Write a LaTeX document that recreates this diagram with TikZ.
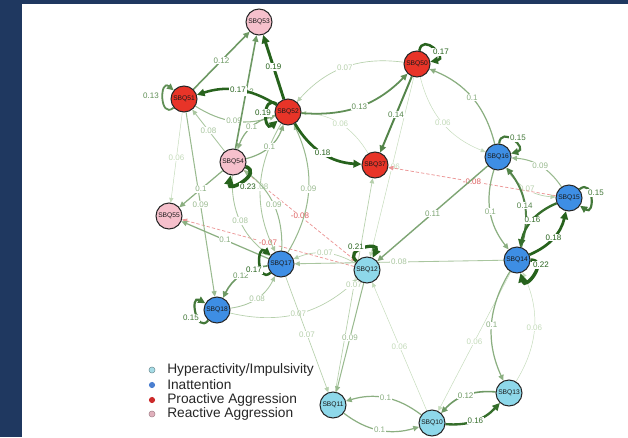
\documentclass[tikz,border=0pt]{standalone}
\usepackage{fontspec}
\setmainfont{Liberation Sans}
\usetikzlibrary{arrows.meta}
\pgfdeclarelayer{bg}\pgfdeclarelayer{edges}
\pgfsetlayers{bg,edges,main}
\definecolor{dg}{RGB}{38,98,28}
\definecolor{pl}{RGB}{210,229,200}
\definecolor{bgblue}{RGB}{31,56,96}
\definecolor{pared}{RGB}{232,52,40}
\definecolor{rapink}{RGB}{246,192,204}
\definecolor{inblue}{RGB}{62,142,228}
\definecolor{hycyan}{RGB}{142,216,234}
\definecolor{negline}{RGB}{236,150,150}
\definecolor{negtext}{RGB}{222,96,96}
\definecolor{dhy}{RGB}{166,220,230}
\definecolor{din}{RGB}{74,127,208}
\definecolor{dpa}{RGB}{204,42,42}
\definecolor{dra}{RGB}{224,176,188}
\tikzset{
  ew/.code={%
    \pgfmathtruncatemacro\ewp{min(100,max(0,(#1-0.05)/0.12*100))}%
    \pgfmathsetmacro\ewl{0.35+(#1-0.06)*14}%
    \edef\ewtmp{\noexpand\pgfkeysalso{draw=dg!\ewp!pl,text=dg!\ewp!pl,line width=\ewl pt}}\ewtmp
    \pgfkeysalso{->}},
  nd/.style={circle,draw=black!85,line width=0.75pt,minimum size=19.5pt,inner sep=0pt,
    font=\fontsize{5}{5}\selectfont,text=black!90},
  pa/.style={nd,fill=pared}, ra/.style={nd,fill=rapink},
  ia/.style={nd,fill=inblue}, hy/.style={nd,fill=hycyan},
  lab/.style={fill=white,inner sep=0.6pt,font=\fontsize{6}{6}\selectfont},
  neg/.style={draw=negline,text=negtext,dash pattern=on 2.5pt off 1.5pt,line width=0.55pt,->},
  lp/.style={min distance=14pt,looseness=1},
  legdot/.style={circle,minimum size=4.6pt,inner sep=0pt},
  legtxt/.style={anchor=west,inner sep=0pt,font=\fontsize{10.3}{10.3}\selectfont,text=black!85}
}
\begin{document}
\begin{tikzpicture}[x=0.75pt,y=0.75pt,>={Triangle[length=3pt 1.5,width=2.6pt 1.5]}]
\useasboundingbox (0,0) rectangle (628,437);
\begin{pgfonlayer}{bg}
\fill[bgblue] (0,0) rectangle (628,437);
\fill[white] (22,0) rectangle (628,433);
\end{pgfonlayer}

% nodes
\node[ra] (n53) at (259,415) {SBQ53};
\node[pa] (n51) at (184,338) {SBQ51};
\node[pa] (n52) at (288,325) {SBQ52};
\node[pa] (n50) at (417,373) {SBQ50};
\node[pa] (n37) at (375,272) {SBQ37};
\node[ra] (n54) at (233,275) {SBQ54};
\node[ra] (n55) at (169,221) {SBQ55};
\node[ia] (n16) at (498,280) {SBQ16};
\node[ia] (n15) at (569,239) {SBQ15};
\node[ia] (n14) at (517,177) {SBQ14};
\node[ia] (n17) at (281,173) {SBQ17};
\node[ia] (n18) at (217,127) {SBQ18};
\node[hy] (n12) at (367,167) {SBQ12};
\node[hy] (n11) at (333,32) {SBQ11};
\node[hy] (n10) at (432,14) {SBQ10};
\node[hy] (n13) at (509,44) {SBQ13};

% legend
\node[legdot,fill=dhy,draw=dhy!60!black,line width=0.3pt] (d1) at (152,67) {};
\node[legdot,fill=din] (d2) at (152,52) {};
\node[legdot,fill=dpa] (d3) at (152,37) {};
\node[legdot,fill=dra,draw=dra!70!black,line width=0.3pt] (d4) at (152,23) {};
\node[legtxt] (t1) at (167,67) {Hyperactivity/Impulsivity};
\node[legtxt] (t2) at (167,52) {Inattention};
\node[legtxt] (t3) at (167,37) {Proactive Aggression};
\node[legtxt] (t4) at (167,23) {Reactive Aggression};

\begin{pgfonlayer}{edges}
% weak edges
\draw[ew=0.06] (n51) -- node[lab]{0.06} (n55);
\draw[ew=0.06] (n37) to[bend right=28] node[lab]{0.06} (n52);
\draw[ew=0.06] (n50) to[bend right=27] node[lab]{0.06} (n16);
\draw[ew=0.06] (n50) -- node[lab]{0.06} (n12);
\draw[ew=0.06] (n10) -- node[lab]{0.06} (n12);
\draw[ew=0.06] (n14) -- node[lab]{0.06} (n10);
\draw[ew=0.06] (n13) to[bend right=28] node[lab]{0.06} (n14);
\draw[ew=0.07] (n50) to[bend right=28] node[lab]{0.07} (n52);
\draw[ew=0.07] (n16) to[bend right=26] node[lab]{0.07} (n15);
\draw[ew=0.07] (n12) to[bend right=26] node[lab]{0.07} (n17);
\draw[ew=0.07] (n18) to[bend right=28] node[lab]{0.07} (n12);
\draw[ew=0.07] (n17) -- node[lab]{0.07} (n11);
\draw[ew=0.07] (n11) -- node[lab]{0.07} (n37);
% negative edges
\draw[neg] (n15) -- node[lab]{-0.08} (n37);
\draw[neg] (n54) -- node[lab]{-0.08} (n12);
\draw[neg] (n12) -- node[lab]{-0.07} (n55);
% 0.08
\draw[ew=0.08] (n54) -- node[lab]{0.08} (n51);
\draw[ew=0.08] (n52) to[bend right=28] node[lab]{0.08} (n17);
\draw[ew=0.08] (n54) to[bend right=28] node[lab]{0.08} (n17);
\draw[ew=0.08] (n18) to[bend right=28] node[lab]{0.08} (n17);
\draw[ew=0.08] (n14) -- node[lab]{0.08} (n17);
% 0.09
\draw[ew=0.09] (n51) to[bend right=25] node[lab]{0.09} (n52);
\draw[ew=0.09] (n51) -- node[lab]{0.09} (n18);
\draw[ew=0.09] (n17) to[bend right=28] node[lab]{0.09} (n52);
\draw[ew=0.09] (n17) to[bend right=28] node[lab]{0.09} (n54);
\draw[ew=0.09] (n15) to[bend right=26] node[lab]{0.09} (n16);
\draw[ew=0.09] (n12) -- node[lab]{0.09} (n11);
% 0.1
\draw[ew=0.1] (n52) to[bend right=28] node[lab]{0.1} (n54);
\draw[ew=0.1] (n54) to[bend right=28] node[lab]{0.1} (n52);
\draw[ew=0.1] (n54) -- node[lab]{0.1} (n55);
\draw[ew=0.1] (n17) -- node[lab]{0.1} (n55);
\draw[ew=0.1] (n16) to[bend right=27] node[lab]{0.1} (n50);
\draw[ew=0.1] (n16) to[bend right=28] node[lab]{0.1} (n14);
\draw[ew=0.1] (n14) to[bend right=28] node[lab]{0.1} (n13);
\draw[ew=0.1] (n10) to[bend right=27] node[lab]{0.1} (n11);
\draw[ew=0.1] (n11) to[bend right=27] node[lab]{0.1} (n10);
\draw[ew=0.11] (n16) -- node[lab]{0.11} (n12);
% 0.12 - 0.16
\draw[ew=0.12] (n51) -- node[lab]{0.12} (n53);
\draw[ew=0.12] (n54) -- node[lab]{0.12} (n53);
\draw[ew=0.12] (n17) to[bend right=28] node[lab]{0.12} (n18);
\draw[ew=0.12] (n13) to[bend right=26] node[lab]{0.12} (n10);
\draw[ew=0.13] (n52) to[bend right=25] node[lab]{0.13} (n50);
\draw[ew=0.13] (n51) to[out=220,in=140,lp] (n51);
\draw[ew=0.14] (n50) -- node[lab]{0.14} (n37);
\draw[ew=0.14] (n14) to[bend right=28] node[lab]{0.14} (n16);
\draw[ew=0.15] (n16) to[out=85,in=15,lp] (n16);
\draw[ew=0.15] (n15) to[out=40,in=-35,lp] (n15);
\draw[ew=0.15] (n18) to[out=230,in=150,lp] (n18);
\draw[ew=0.16] (n15) to[bend right=27] node[lab]{0.16} (n14);
\draw[ew=0.16] (n10) to[bend right=26] node[lab]{0.16} (n13);
% strong
\draw[ew=0.17] (n52) to[bend right=25] node[lab]{0.17} (n51);
\draw[ew=0.17] (n50) to[out=80,in=10,lp] (n50);
\draw[ew=0.17] (n17) to[out=220,in=140,lp] (n17);
\draw[ew=0.18] (n52) to[bend right=28] node[lab]{0.18} (n37);
\draw[ew=0.18] (n14) to[bend right=27] node[lab]{0.18} (n15);
\draw[ew=0.19] (n52) to[out=145,in=220,lp] (n52);
\draw[ew=0.19] (n52) -- node[lab]{0.19} (n53);
\draw[ew=0.21] (n12) to[out=140,in=65,lp] (n12);
\draw[ew=0.22] (n14) to[out=0,in=-75,lp] (n14);
\draw[ew=0.23] (n54) to[out=-20,in=-100,lp] (n54);
% loop labels
\node[lab,text=dg!66!pl] (l51) at (151,341) {0.13};
\node[lab,text=dg] (l52) at (263,324) {0.19};
\node[lab,text=dg] (l50) at (441,385) {0.17};
\node[lab,text=dg!83!pl] (l16) at (518,299) {0.15};
\node[lab,text=dg!83!pl] (l15) at (596,244) {0.15};
\node[lab,text=dg] (l14) at (541,172) {0.22};
\node[lab,text=dg] (l12) at (356,190) {0.21};
\node[lab,text=dg] (l17) at (254,167) {0.17};
\node[lab,text=dg!83!pl] (l18) at (191,119) {0.15};
\node[lab,text=dg] (l54) at (248,250) {0.23};
\end{pgfonlayer}
\end{tikzpicture}
\end{document}
